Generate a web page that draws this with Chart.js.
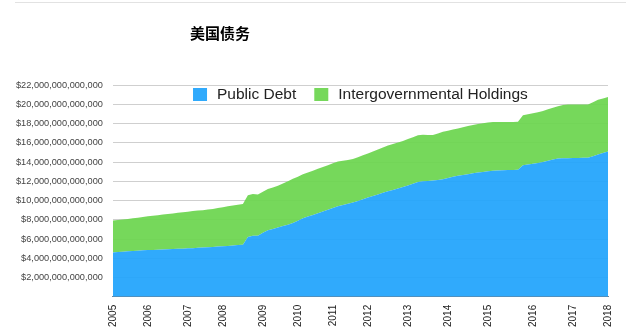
<!DOCTYPE html>
<html>
<head>
<meta charset="utf-8">
<script src="https://cdn.jsdelivr.net/npm/chart.js@4.4.1/dist/chart.umd.min.js"></script>
<style>
  html, body { margin: 0; padding: 0; background: #fff; }
  #wrap { position: relative; width: 626px; height: 332px; }
  #topline { position: absolute; left: 15px; right: 0; top: 2px; height: 1px; background: #e2e2e2; }
</style>
</head>
<body>
<div id="wrap">
  <div id="topline"></div>
  <canvas id="chart" width="626" height="332"></canvas>
</div>
<script>
const TITLE = '美国债务';
const SERIES_NAMES = ['Public Debt', 'Intergovernmental Holdings'];
const COLORS = { public: 'rgba(35,165,252,0.94)', intergov: 'rgba(109,214,81,0.94)' };

// year labels and the sample index where each one sits on the category axis
const YEARS = ['2005', '2006', '2007', '2008', '2009', '2010', '2011', '2012', '2013', '2014', '2015', '2016', '2017', '2018'];
const YEAR_INDEX = [0, 7, 15, 22, 30, 37, 44, 51, 59, 67, 75, 84, 92, 99];

// trillions of dollars
const publicDebt = [
  4.61, 4.64, 4.68, 4.72, 4.75, 4.79, 4.82, 4.86, 4.87, 4.89,
  4.91, 4.93, 4.95, 4.98, 5.00, 5.03, 5.05, 5.08, 5.11, 5.14,
  5.17, 5.21, 5.24, 5.28, 5.32, 5.37, 5.41, 6.22, 6.35, 6.35,
  6.65, 6.92, 7.04, 7.19, 7.34, 7.48, 7.67, 7.90, 8.15, 8.33,
  8.50, 8.67, 8.85, 9.03, 9.22, 9.40, 9.53, 9.66, 9.80, 9.96,
  10.13, 10.30, 10.47, 10.63, 10.80, 10.96, 11.10, 11.25, 11.40, 11.57,
  11.75, 11.93, 11.99, 12.02, 12.07, 12.13, 12.22, 12.34, 12.46, 12.58,
  12.66, 12.74, 12.82, 12.90, 12.97, 13.04, 13.10, 13.12, 13.14, 13.16,
  13.18, 13.20, 13.65, 13.73, 13.81, 13.89, 13.99, 14.13, 14.26, 14.36,
  14.39, 14.40, 14.41, 14.42, 14.43, 14.45, 14.60, 14.77, 14.93, 15.10,
];
const intergovHoldings = [
  3.32, 3.34, 3.35, 3.37, 3.40, 3.43, 3.47, 3.50, 3.55, 3.59,
  3.63, 3.67, 3.71, 3.74, 3.78, 3.81, 3.85, 3.87, 3.89, 3.92,
  3.96, 4.01, 4.07, 4.12, 4.15, 4.18, 4.22, 4.33, 4.33, 4.27,
  4.25, 4.28, 4.32, 4.34, 4.42, 4.52, 4.58, 4.58, 4.58, 4.59,
  4.60, 4.62, 4.62, 4.63, 4.64, 4.65, 4.61, 4.56, 4.52, 4.53,
  4.56, 4.59, 4.63, 4.68, 4.71, 4.75, 4.77, 4.78, 4.79, 4.81,
  4.83, 4.85, 4.83, 4.78, 4.73, 4.84, 4.91, 4.91, 4.91, 4.90,
  4.94, 4.99, 5.03, 5.05, 5.06, 5.06, 5.06, 5.04, 5.02, 5.00,
  4.98, 4.97, 5.20, 5.23, 5.26, 5.29, 5.31, 5.34, 5.37, 5.42,
  5.53, 5.57, 5.56, 5.55, 5.54, 5.52, 5.60, 5.69, 5.67, 5.66,
];

const labels = publicDebt.map((_, i) => {
  const k = YEAR_INDEX.indexOf(i);
  return k >= 0 ? YEARS[k] : '';
});

const FONT = '"Liberation Sans", Arial, sans-serif';

const titlePlugin = {
  id: 'sideTitle',
  afterDraw(chart) {
    const ctx = chart.ctx;
    ctx.save();
    ctx.font = 'bold 15px "Noto Sans CJK SC", sans-serif';
    ctx.fillStyle = '#000';
    ctx.textAlign = 'center';
    ctx.textBaseline = 'middle';
    ctx.fillText(TITLE, 220, 33);
    ctx.restore();
  },
};

// single-row legend sitting inside the top of the plot area
const innerLegend = {
  id: 'innerLegend',
  afterDatasetsDraw(chart) {
    const { ctx, chartArea } = chart;
    const box = 14, gap = 10, itemGap = 18;
    ctx.save();
    ctx.font = '15.5px ' + FONT;
    const items = chart.data.datasets.map(ds => ({
      text: ds.label, color: ds.backgroundColor, w: box + gap + ctx.measureText(ds.label).width,
    }));
    const total = items.reduce((s, it) => s + it.w, 0) + itemGap * (items.length - 1);
    let x = (chartArea.left + chartArea.right) / 2 - total / 2;
    const y = chartArea.top + 3;
    items.forEach(it => {
      ctx.fillStyle = it.color;
      ctx.fillRect(x, y, box, 13);
      ctx.fillStyle = '#222';
      ctx.textBaseline = 'middle';
      ctx.fillText(it.text, x + box + gap, y + 7);
      x += it.w + itemGap;
    });
    ctx.restore();
  },
};

new Chart(document.getElementById('chart').getContext('2d'), {
  type: 'line',
  data: {
    labels,
    datasets: [
      {
        label: SERIES_NAMES[0], data: publicDebt,
        backgroundColor: COLORS.public, borderColor: 'rgba(0,0,0,0)',
        fill: 'origin', borderWidth: 0, pointRadius: 0, tension: 0,
      },
      {
        label: SERIES_NAMES[1], data: intergovHoldings,
        backgroundColor: COLORS.intergov, borderColor: 'rgba(0,0,0,0)',
        fill: '-1', borderWidth: 0, pointRadius: 0, tension: 0,
      },
    ],
  },
  options: {
    responsive: false, animation: false,
    layout: { padding: { top: 85, left: 6, right: 18, bottom: 5 } },
    plugins: {
      legend: { display: false },
      tooltip: { enabled: false },
      title: { display: false },
    },
    scales: {
      x: {
        stacked: true,
        grid: { display: false },
        border: { display: true, color: '#6f8496' },
        ticks: {
          autoSkip: false, minRotation: 90, maxRotation: 90, padding: 0,
          color: '#222', font: { family: FONT, size: 10 },
        },
      },
      y: {
        stacked: true, min: 0, max: 22,
        grid: { color: '#cfcfcf', drawTicks: false },
        border: { display: false },
        ticks: {
          stepSize: 2, padding: 10, color: '#444', font: { family: FONT, size: 9.2 },
          callback: v => v === 0 ? '' : '$' + (v * 1e12).toLocaleString('en-US'),
        },
      },
    },
  },
  plugins: [titlePlugin, innerLegend],
});
</script>
</body>
</html>
